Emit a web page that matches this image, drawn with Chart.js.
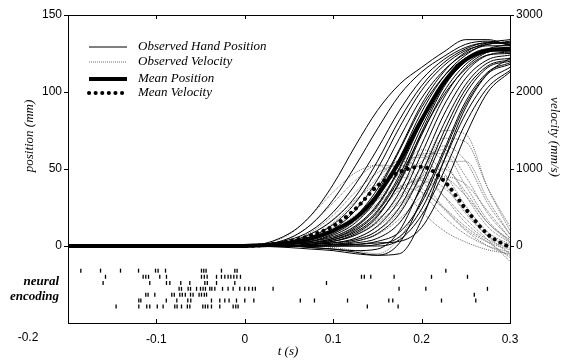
<!DOCTYPE html>
<html>
<head>
<meta charset="utf-8">
<script src="https://cdn.jsdelivr.net/npm/chart.js@4.4.1/dist/chart.umd.min.js"></script>
<style>
  html, body { margin: 0; padding: 0; background: #fff; }
</style>
</head>
<body>
<canvas id="chart" width="562" height="361"></canvas>
<script>
// sample times (s) shared by all trajectories
var times = [-0.2, 0, 0.05, 0.075, 0.1, 0.125, 0.15, 0.175, 0.2, 0.225, 0.25, 0.275, 0.3];

// observed hand position per trial (mm)
var positionTrials = [
  [0, 0, 8, 20, 40, 65, 88, 105, 116, 126, 134, 134, 130],
  [0, 0, 5, 14, 30, 52, 76, 98, 113, 123, 131, 133, 131],
  [0, 0, 4, 10, 22, 40, 63, 88, 108, 121, 129, 132, 131],
  [0, 1, 3, 8, 17, 32, 55, 82, 104, 119, 128, 132, 132],
  [0, 0, 2, 6, 14, 28, 50, 77, 101, 117, 127, 131, 133],
  [0, 0, 2, 5, 11, 23, 43, 70, 96, 114, 125, 130, 130],
  [0, 0, 1, 4, 9, 19, 37, 63, 92, 113, 126, 132, 134],
  [0, 0, 1, 3, 7, 15, 31, 57, 87, 110, 124, 131, 132],
  [0, 0, 1, 3, 6, 13, 27, 51, 82, 107, 122, 128, 128],
  [0, 0, 0, 2, 5, 11, 23, 46, 77, 104, 120, 127, 127],
  [0, 0, 1, 2, 4, 9, 20, 41, 72, 100, 118, 126, 127],
  [0, 0, 0, 1, 3, 7, 16, 35, 66, 96, 116, 126, 129],
  [0, 0, 0, 1, 2, 5, 13, 30, 60, 91, 113, 124, 126],
  [0, 0, 0, 1, 2, 4, 10, 25, 53, 85, 109, 121, 124],
  [0, 0, 0, 0, 1, 3, 8, 21, 47, 79, 105, 119, 122],
  [0, 0, 0, -1, -2, -3, -2, 10, 40, 74, 102, 117, 121],
  [0, 0, 0, 0, 1, 2, 5, 15, 38, 70, 99, 116, 120],
  [0, 0, -1, -2, -3, -5, -6, 2, 30, 62, 94, 113, 119],
  [0, 0, 0, 0, 0, 1, 3, 9, 28, 60, 92, 112, 118],
  [0, 0, 0, 0, 0, 0, 1, 6, 24, 55, 86, 107, 116],
  [0, 0, 0, -1, -2, -4, -6, -5, 17, 55, 90, 112, 122],
  [0, 0, 0, 0, 0, 0, 0, 4, 20, 48, 80, 103, 114],
  [0, 0, 0, 0, 1, 1, 2, 3, 12, 38, 72, 100, 113],
  [0, 0, 0, 2, 5, 12, 26, 50, 80, 106, 121, 127, 126],
  [0, 0, 1, 3, 8, 17, 35, 62, 90, 110, 122, 127, 128],
  [0, 0, 0, 1, 3, 8, 19, 42, 74, 103, 120, 128, 131],
  [0, 0, 0, 1, 4, 10, 22, 44, 73, 98, 115, 124, 125]
];

// observed velocity per trial (mm/s)
var velocityTrials = [
  [0, 0, 150, 400, 700, 950, 1050, 800, 450, 200, 50, -50, -100],
  [0, 0, 100, 280, 560, 850, 1050, 1000, 700, 380, 150, 0, -80],
  [0, 0, 60, 180, 400, 700, 950, 1050, 850, 500, 220, 50, -50],
  [0, 0, 40, 120, 300, 580, 880, 1100, 1000, 650, 300, 80, -30],
  [0, 0, 30, 100, 240, 480, 800, 1120, 1150, 820, 420, 130, 0],
  [0, 0, 20, 70, 180, 380, 680, 1000, 1180, 950, 520, 180, 20],
  [0, 0, 20, 60, 150, 320, 600, 950, 1250, 1100, 650, 250, 40],
  [0, 0, 10, 40, 110, 250, 500, 850, 1200, 1200, 780, 330, 60],
  [0, 0, 10, 30, 90, 200, 420, 750, 1100, 1250, 900, 420, 100],
  [0, 0, 0, 20, 60, 150, 330, 650, 1000, 1300, 1100, 550, 150],
  [0, 0, 0, 10, 40, 100, 250, 500, 900, 1400, 1350, 750, 250],
  [0, 0, 0, 10, 30, 80, 200, 450, 950, 1500, 1450, 750, 200],
  [0, 0, 0, 0, -20, -60, -100, 100, 600, 1100, 1100, 600, 150],
  [0, 0, 0, 0, 20, 60, 150, 350, 650, 900, 800, 450, 100],
  [0, 0, 30, 80, 200, 400, 600, 750, 700, 500, 250, 50, -150],
  [0, 0, 20, 60, 160, 330, 550, 760, 850, 650, 350, 80, -200],
  [0, 0, 10, 40, 120, 260, 480, 720, 880, 760, 450, 120, -100],
  [0, 0, 40, 150, 350, 600, 800, 900, 750, 480, 200, 0, -120],
  [0, 0, 0, 20, 60, 140, 300, 550, 800, 880, 650, 300, 50],
  [0, 0, 10, 30, 80, 180, 350, 600, 900, 1000, 700, 300, 80]
];

var meanPosition = [0, 0, 2, 5, 10, 18, 33, 55, 82, 106, 121, 127, 128];
var meanVelocity = [0, 0, 60, 140, 260, 480, 780, 960, 1030, 850, 480, 150, -20];

// spike raster: one row per neuron, spike times (s)
var spikeRowLevels = [-16, -20, -24, -27.8, -31.6, -35.4, -39.3];
var spikeRows = [
  [-0.1855, -0.1632, -0.1406, -0.1202, -0.1010, -0.0981, -0.0897, -0.0490, -0.0464, -0.0438, -0.0264, -0.0113, -0.0087, 0.2274],
  [-0.1576, -0.1150, -0.1120, -0.1089, -0.0962, -0.0886, -0.0490, -0.0458, -0.0426, -0.0320, -0.0264, -0.0226, -0.0189, -0.0158, -0.0124, -0.0090, -0.0049, 0.1320, 0.1352, 0.1425, 0.1689, 0.2112, 0.2519],
  [-0.1603, -0.1075, -0.0886, -0.0848, -0.0724, -0.0622, -0.0452, -0.0424, -0.0320, -0.0113, 0.0924],
  [-0.0743, -0.0716, -0.0641, -0.0614, -0.0546, -0.0501, -0.0472, -0.0445, -0.0396, -0.0373, -0.0339, -0.0252, -0.0189, -0.0132, -0.0057, 0.0, 0.0045, 0.0087, 0.0119, 0.0320, 0.1745, 0.2048, 0.2745],
  [-0.1120, -0.1094, -0.1018, -0.0826, -0.0798, -0.0735, -0.0707, -0.0673, -0.0614, -0.0585, -0.0517, -0.0490, -0.0458, -0.0433, 0.2596],
  [-0.1199, -0.1176, -0.0888, -0.0769, -0.0645, -0.0611, -0.0377, -0.0283, -0.0226, -0.0178, -0.0094, 0.0, 0.0102, 0.0628, 0.0788, 0.1162, 0.1629, 0.1674, 0.2225, 0.2613],
  [-0.1456, -0.1199, -0.1109, -0.1075, -0.0990, -0.0924, -0.0792, -0.0766, -0.0716, -0.0650, -0.0622, -0.0475, -0.0447, -0.0419, -0.0377, -0.0283, -0.0132, -0.0102, -0.0076, 0.1386, 0.1734]
];

var xTicks = [-0.2, -0.1, 0, 0.1, 0.2, 0.3];
var posTicks = [0, 50, 100, 150];
var velTicks = [0, 1000, 2000, 3000];

var legendLabels = ['Observed Hand Position', 'Observed Velocity', 'Mean Position', 'Mean Velocity'];

var tickFont = { family: '"Liberation Sans", Arial, sans-serif', size: 12 };
var serifItalic = 'italic 13px "Liberation Serif", "Times New Roman", serif';
var serifBoldItalic = 'italic bold 13px "Liberation Serif", "Times New Roman", serif';

function toPoints(vals) {
  return times.map(function(t, i) { return { x: t, y: vals[i] }; });
}

var posStyle = { borderColor: '#000', borderWidth: 1, borderDash: [] };
var velStyle = { borderColor: '#6a6a6a', borderWidth: 1, borderDash: [1, 1] };
var meanPosStyle = { borderColor: '#000', borderWidth: 4, borderDash: [] };
var meanVelStyle = { borderColor: '#000', borderWidth: 4, borderDash: [0.1, 6.5], cap: 'round' };

var datasets = [];

datasets.push({
  label: 'Mean Velocity', data: toPoints(meanVelocity), yAxisID: 'y2', order: 0,
  borderColor: meanVelStyle.borderColor, borderWidth: meanVelStyle.borderWidth,
  borderDash: meanVelStyle.borderDash, borderCapStyle: 'round',
  pointRadius: 0, cubicInterpolationMode: 'monotone', fill: false
});
datasets.push({
  label: 'Mean Position', data: toPoints(meanPosition), yAxisID: 'y', order: 0,
  borderColor: meanPosStyle.borderColor, borderWidth: meanPosStyle.borderWidth,
  pointRadius: 0, cubicInterpolationMode: 'monotone', fill: false
});

spikeRows.forEach(function(row, r) {
  datasets.push({
    type: 'scatter', label: 'spikes ' + r, yAxisID: 'y', order: 0,
    data: row.map(function(t) { return { x: t, y: spikeRowLevels[r] }; }),
    pointStyle: 'line', rotation: 90, radius: 2, pointRadius: 2,
    borderColor: '#000', borderWidth: 1.3, showLine: false
  });
});

positionTrials.forEach(function(vals, i) {
  datasets.push({
    label: 'pos ' + i, data: toPoints(vals), yAxisID: 'y', order: 1,
    borderColor: posStyle.borderColor, borderWidth: posStyle.borderWidth,
    pointRadius: 0, cubicInterpolationMode: 'monotone', fill: false
  });
});

velocityTrials.forEach(function(vals, i) {
  datasets.push({
    label: 'vel ' + i, data: toPoints(vals), yAxisID: 'y2', order: 2,
    borderColor: velStyle.borderColor, borderWidth: velStyle.borderWidth,
    borderDash: velStyle.borderDash,
    pointRadius: 0, cubicInterpolationMode: 'monotone', fill: false
  });
});

// frame, inward x ticks, titles and legend
var decorations = {
  id: 'decorations',
  afterDraw: function(chart) {
    var ctx = chart.ctx;
    var area = chart.chartArea;
    var xs = chart.scales.x;
    ctx.save();
    ctx.strokeStyle = '#000';
    ctx.lineWidth = 1;
    ctx.beginPath();
    ctx.moveTo(area.left, area.top + 0.5);
    ctx.lineTo(area.right, area.top + 0.5);
    xTicks.forEach(function(t) {
      var px = Math.round(xs.getPixelForValue(t)) + 0.5;
      ctx.moveTo(px, area.top);
      ctx.lineTo(px, area.top + 4);
      ctx.moveTo(px, area.bottom);
      ctx.lineTo(px, area.bottom - 4);
    });
    ctx.stroke();

    ctx.fillStyle = '#000';
    // first x label sits left of the axis corner in the original
    ctx.font = tickFont.size + 'px ' + tickFont.family;
    ctx.textAlign = 'center';
    ctx.textBaseline = 'middle';
    ctx.fillText(plainLabel(xTicks[0]), 28, area.bottom + 15);

    ctx.font = serifItalic;
    ctx.fillText('t (s)', 288, 352);

    ctx.save();
    ctx.translate(30, 136);
    ctx.rotate(-Math.PI / 2);
    ctx.fillText('position (mm)', 0, 0);
    ctx.restore();

    ctx.save();
    ctx.translate(554, 137);
    ctx.rotate(Math.PI / 2);
    ctx.fillText('velocity (mm/s)', 0, 0);
    ctx.restore();

    ctx.font = serifBoldItalic;
    ctx.textAlign = 'right';
    ctx.fillText('neural', 59, 282);
    ctx.fillText('encoding', 59, 297);

    var styles = [posStyle, velStyle, meanPosStyle, meanVelStyle];
    var rowsY = [47, 62, 79, 93];
    ctx.font = serifItalic;
    ctx.textAlign = 'left';
    styles.forEach(function(s, i) {
      ctx.save();
      ctx.strokeStyle = s.borderColor;
      ctx.lineWidth = s.borderWidth;
      ctx.setLineDash(s.borderDash);
      ctx.lineCap = s.cap || 'butt';
      ctx.beginPath();
      ctx.moveTo(89, rowsY[i]);
      ctx.lineTo(127, rowsY[i]);
      ctx.stroke();
      ctx.restore();
      ctx.fillText(legendLabels[i], 138, rowsY[i]);
    });
    ctx.restore();
  }
};

function fixedTicks(list) {
  return function(scale) {
    scale.ticks = list.map(function(v) { return { value: v }; });
  };
}

function plainLabel(v) {
  return String(Math.round(v * 10) / 10);
}

var chart = new Chart(document.getElementById('chart'), {
  type: 'line',
  data: { datasets: datasets },
  options: {
    responsive: false,
    animation: false,
    layout: { padding: { top: 15, left: 0, right: 0, bottom: 0 } },
    plugins: { legend: { display: false }, tooltip: { enabled: false } },
    scales: {
      x: {
        type: 'linear', min: -0.2, max: 0.3,
        afterBuildTicks: fixedTicks(xTicks),
        afterFit: function(s) { s.height = 38; },
        grid: { drawOnChartArea: false, drawTicks: false },
        border: { color: '#000', width: 1 },
        ticks: {
          color: '#000', font: tickFont, padding: 9, maxRotation: 0,
          callback: function(v) { return v === xTicks[0] ? '' : plainLabel(v); }
        }
      },
      y: {
        position: 'left', min: -50, max: 150,
        afterBuildTicks: fixedTicks(posTicks),
        afterFit: function(s) { s.width = 68; },
        grid: { drawOnChartArea: false, tickLength: 4, color: '#000' },
        border: { color: '#000', width: 1 },
        ticks: { color: '#000', font: tickFont, padding: 2, callback: plainLabel }
      },
      y2: {
        position: 'right', min: -1000, max: 3000,
        afterBuildTicks: fixedTicks(velTicks),
        afterFit: function(s) { s.width = 52; },
        grid: { drawOnChartArea: false, tickLength: 4, color: '#000' },
        border: { color: '#000', width: 1 },
        ticks: { color: '#000', font: tickFont, padding: 2, callback: plainLabel }
      }
    }
  },
  plugins: [decorations]
});
</script>
</body>
</html>
